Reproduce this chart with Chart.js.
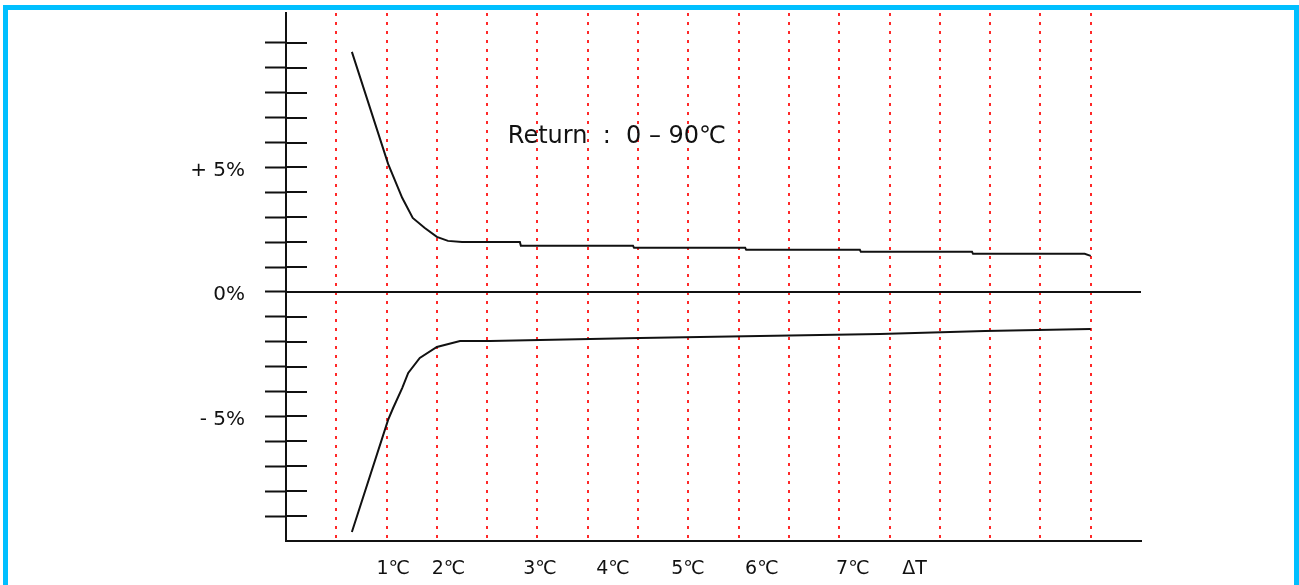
<!DOCTYPE html>
<html>
<head>
<meta charset="utf-8">
<script src="https://cdn.jsdelivr.net/npm/chart.js"></script>
<style>
  html, body { margin: 0; padding: 0; background: #fff; overflow: hidden; }
  #frame { position: absolute; left: 3px; top: 5px; width: 1296px; height: 640px; box-sizing: border-box; border: 5px solid #00bfff; }
  #chart { position: absolute; left: 0; top: 0; }
</style>
</head>
<body>
<div id="frame"></div>
<canvas id="chart" width="1299" height="585"></canvas>
<script>
// data (x in grid units, y in %)
const upperX = [1.31, 2.03, 2.31, 2.52, 2.76, 3.00, 3.22, 3.50, 4.65, 4.67, 6.90, 6.92, 9.13, 9.15, 11.41, 11.43, 13.64, 13.66, 15.88, 16.00];
const upperY = [9.64, 5.14, 3.78, 2.97, 2.57, 2.21, 2.05, 2.01, 2.01, 1.85, 1.85, 1.77, 1.77, 1.69, 1.69, 1.61, 1.61, 1.53, 1.53, 1.45];
const lowerX = [1.31, 2.03, 2.13, 2.31, 2.43, 2.66, 3.00, 3.46, 4.06, 5.05, 7.04, 9.42, 11.81, 13.90, 16.00];
const lowerY = [-9.64, -5.14, -4.66, -3.86, -3.25, -2.65, -2.21, -1.97, -1.97, -1.93, -1.85, -1.77, -1.69, -1.57, -1.49];
const zeroX = [0, 17];
const zeroY = [0, 0];

const gridXValues = [1, 2, 3, 4, 5, 6, 7, 8, 9, 10, 11, 12, 13, 14, 15, 16];
const xLabelValues = [2.13, 3.23, 5.05, 6.50, 7.99, 9.46, 11.27, 12.50];
const xLabels = ['1℃', '2℃', '3℃', '4℃', '5℃', '6℃', '7℃', 'ΔT'];
const yTickValues = [-9, -8, -7, -6, -5, -4, -3, -2, -1, 0, 1, 2, 3, 4, 5, 6, 7, 8, 9, 10];
const yTickLabels = { '5': '+ 5%', '0': '0%', '-5': '- 5%' };

const titleText = 'Return  :  0 – 90℃';
const titleX = 4.41;
const titleY = 6.22;

const pts = (xs, ys) => xs.map((x, i) => ({ x: x, y: ys[i] }));

const ink = '#111';
Chart.defaults.font.family = '"DejaVu Sans", sans-serif';
Chart.defaults.color = ink;

// inner half of the y tick marks + the caption
const extras = {
  id: 'extras',
  afterDraw(chart) {
    const ctx = chart.ctx;
    const y = chart.scales.y;
    const left = chart.chartArea.left;
    ctx.save();
    ctx.strokeStyle = ink;
    ctx.lineWidth = 2;
    yTickValues.forEach(v => {
      const py = Math.round(y.getPixelForValue(v));
      ctx.beginPath();
      ctx.moveTo(left, py);
      ctx.lineTo(left + 21, py);
      ctx.stroke();
    });
    ctx.font = '24px "DejaVu Sans"';
    ctx.fillStyle = ink;
    ctx.textAlign = 'left';
    ctx.textBaseline = 'middle';
    ctx.fillText(titleText, chart.scales.x.getPixelForValue(titleX), y.getPixelForValue(titleY));
    ctx.restore();
  }
};

const noPad = s => { s.paddingTop = 0; s.paddingBottom = 0; s.paddingLeft = 0; s.paddingRight = 0; };

new Chart(document.getElementById('chart'), {
  type: 'line',
  data: {
    datasets: [
      { data: pts(upperX, upperY), borderColor: ink, borderWidth: 2, pointRadius: 0, tension: 0 },
      { data: pts(lowerX, lowerY), borderColor: ink, borderWidth: 2, pointRadius: 0, tension: 0 },
      { data: pts(zeroX, zeroY), borderColor: ink, borderWidth: 2, pointRadius: 0, tension: 0 }
    ]
  },
  options: {
    responsive: false,
    animation: false,
    devicePixelRatio: 1,
    layout: { padding: { left: 0, top: 13, right: 158, bottom: 0 } },
    plugins: { legend: { display: false }, tooltip: { enabled: false } },
    scales: {
      x: {
        type: 'linear',
        position: 'bottom',
        weight: 0,
        min: 0,
        max: 17,
        afterBuildTicks: s => { s.ticks = gridXValues.map(v => ({ value: v })); },
        afterFit: noPad,
        ticks: { display: false },
        grid: { color: 'rgba(255,30,30,0.95)', lineWidth: 2, drawTicks: false },
        border: { display: true, color: ink, width: 2, dash: [3, 6] }
      },
      xl: {
        type: 'linear',
        position: 'bottom',
        weight: 1,
        min: 0,
        max: 17,
        afterBuildTicks: s => { s.ticks = xLabelValues.map(v => ({ value: v })); },
        afterFit: s => { noPad(s); s.height = 44; },
        ticks: {
          autoSkip: false,
          maxRotation: 0,
          padding: 17,
          font: { size: 19 },
          callback: (v, i) => xLabels[i]
        },
        grid: { display: false, drawTicks: false },
        border: { display: false }
      },
      y: {
        type: 'linear',
        min: -10,
        max: 11.2,
        afterBuildTicks: s => { s.ticks = yTickValues.map(v => ({ value: v })); },
        afterFit: s => { noPad(s); s.width = 286; },
        ticks: {
          autoSkip: false,
          padding: 20,
          labelOffset: 3,
          font: { size: 20 },
          callback: v => yTickLabels[String(v)] || ''
        },
        grid: { drawOnChartArea: false, drawTicks: true, tickLength: 21, tickColor: ink, tickWidth: 2 },
        border: { display: true, color: ink, width: 2 }
      }
    }
  },
  plugins: [extras]
});
</script>
</body>
</html>
